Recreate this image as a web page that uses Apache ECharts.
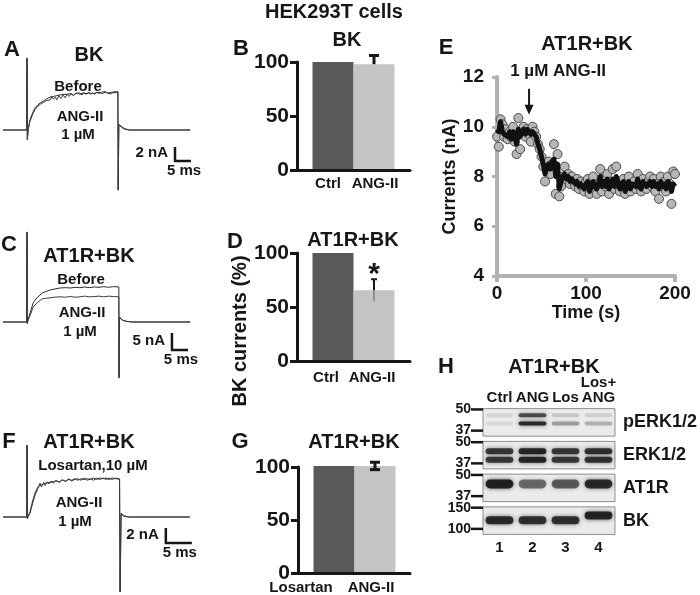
<!DOCTYPE html>
<html><head><meta charset="utf-8">
<script src="https://cdn.jsdelivr.net/npm/echarts@6/dist/echarts.min.js"></script>
<style>html,body{margin:0;padding:0;background:#fff}#c{width:700px;height:595px}</style>
</head><body><div id="c"></div>
<script>
// ================= DATA =================
// Panel A traces (t in ms, current in nA)
const traceABefore = [[-7.5,0],[-0.1,0],[0,10.3],[0.1,-1.4],[0.4,0.2],[0.9,1.4],[1.9,2.6],[2.6,3.2],[3.4,3.6],[4.2,3.9],[5.0,4.1],[6.0,4.4],[7.2,4.7],[8.3,4.8],[9.3,4.9],[10.3,5.0],[11.3,5.1],[12.5,5.1],[13.5,5.2],[14.5,5.0],[15.5,5.3],[16.5,5.1],[17.5,5.3],[18.5,5.2],[19.5,5.3],[20.5,5.2],[21.5,5.3],[22.5,5.4],[23.5,5.2],[24.5,5.4],[25.5,5.3],[26.5,5.4],[27.5,5.3],[28.4,5.5],[28.5,-8.6],[28.7,0.8],[29.5,0.5],[30.5,0.2],[32,0],[51,0]];
const traceAAng = [[-7.5,0],[-0.1,0],[0,10.2],[0.1,-1.3],[0.4,0.1],[0.9,1.2],[1.9,2.4],[2.6,3.0],[3.4,3.4],[4.2,3.7],[5.0,3.9],[6.0,4.2],[7.2,4.3],[7.8,4.8],[8.3,4.4],[8.9,4.7],[9.3,4.3],[10.0,4.9],[10.6,4.5],[11.3,5.0],[11.9,4.6],[12.5,5.1],[13.2,4.8],[13.8,5.2],[14.5,4.9],[15.2,5.2],[15.8,5.0],[16.5,5.3],[17.2,5.0],[17.8,5.3],[18.5,5.1],[19.2,5.4],[19.8,5.1],[20.5,5.3],[21.2,5.1],[21.8,5.4],[22.5,5.2],[23.2,5.4],[23.8,5.2],[24.5,5.5],[25.2,5.2],[25.8,5.4],[26.5,5.2],[27.2,5.5],[27.8,5.3],[28.4,5.4],[28.5,-8.5],[28.7,0.7],[29.5,0.4],[30.5,0.1],[32,0],[51,0]];
// Panel C traces
const traceCBefore = [[-7.5,0],[-0.1,0],[0,26.5],[0.1,-0.5],[0.3,0.6],[1.25,3.5],[1.9,5.6],[3.1,7.1],[4.7,8.5],[6.0,9.0],[7.2,9.4],[8.7,9.7],[10.3,10.0],[12,10.1],[13.5,10.0],[15,10.2],[16.5,10.1],[18,10.3],[19.5,10.1],[21,10.3],[22.5,10.2],[24,10.4],[25.5,10.2],[27,10.4],[28.7,10.3],[28.75,-16.5],[28.9,1.5],[29.8,0.6],[31,0.2],[33,0],[51,0]];
const traceCAng = [[-7.5,0],[-0.1,0],[0,26.3],[0.1,-0.5],[0.3,0.4],[1.25,2.6],[1.9,4.4],[3.1,5.6],[4.7,6.8],[6.0,7.0],[7.2,7.1],[8.7,7.3],[10.3,7.4],[12,7.3],[13.5,7.5],[15,7.3],[16.5,7.4],[18,7.6],[19.5,7.4],[21,7.5],[22.5,7.6],[24,7.4],[25.5,7.6],[27,7.5],[28.7,7.4],[28.75,-16.2],[28.9,1.3],[29.8,0.5],[31,0.2],[33,0],[51,0]];
// Panel F traces
const traceFLos = [[-4.6,0],[-0.05,0],[0,9.6],[0.06,-0.2],[0.25,0.2],[0.58,0.7],[1.15,2.3],[1.6,3.3],[2.1,4.0],[2.8,4.3],[3.5,4.5],[4.2,4.6],[5.0,4.7],[5.6,4.8],[6.2,4.7],[6.8,4.9],[7.4,4.8],[8.0,5.0],[8.6,4.9],[9.2,5.1],[9.8,4.9],[10.4,5.1],[11.0,5.0],[11.6,5.1],[12.2,5.0],[12.8,5.2],[13.4,5.0],[14.0,5.2],[14.6,5.1],[15.2,5.2],[15.8,5.0],[16.4,5.2],[17.0,5.1],[17.8,5.1],[17.9,-10],[18.1,0.5],[18.6,0.2],[19.5,0],[31.3,0]];
const traceFAng = [[-4.6,0],[-0.05,0],[0,9.5],[0.06,-0.2],[0.25,0.1],[0.58,0.5],[1.15,2.0],[1.6,3.0],[2.1,3.8],[2.5,4.5],[2.8,4.0],[3.2,4.6],[3.5,4.2],[3.9,4.7],[4.2,4.4],[4.6,4.8],[5.0,4.5],[5.6,4.9],[6.2,4.6],[6.8,5.0],[7.4,4.7],[8.0,5.1],[8.6,4.8],[9.2,5.0],[9.8,5.1],[10.4,4.9],[11.0,5.2],[11.6,4.9],[12.2,5.1],[12.8,4.9],[13.4,5.2],[14.0,5.0],[14.6,5.2],[15.2,5.0],[15.8,5.2],[16.4,5.0],[17.0,5.2],[17.8,5.0],[17.9,-9.9],[18.1,0.4],[18.6,0.1],[19.5,0],[31.3,0]];
// scale bars [ms, nA]
const scaleA = [5, 2];
const scaleC = [5, 5];
const scaleF = [5, 2];

// Bar panels (% of control)
const catsB = ['Ctrl', 'ANG-II'];
const valuesB = [100, 98];
const errorsB = [0, 8];
const catsD = ['Ctrl', 'ANG-II'];
const valuesD = [100, 65.5];
const errorsD = [0, 10.2];
const sigD = ['', '*'];
const catsG = ['Losartan', 'ANG-II'];
const valuesG = [101, 101];
const errorsG = [0, 3.5];

// Panel E time course
const timeE = [0,2,4,6,8,10,12,14,16,18,20,22,24,26,28,30,32,34,36,38,40,42,44,46,48,50,52,54,56,58,60,62,64,66,68,70,72,74,76,78,80,82,84,86,88,90,92,94,96,98,100,102,104,106,108,110,112,114,116,118,120,122,124,126,128,130,132,134,136,138,140,142,144,146,148,150,152,154,156,158,160,162,164,166,168,170,172,174,176,178,180,182,184,186,188,190,192,194,196,198,200];
const currentE = [9.6,9.2,10.3,10.1,9.6,9.9,9.5,9.8,9.6,10.0,9.4,8.9,10.35,9.1,9.8,10.0,9.6,9.9,9.7,9.4,10.0,9.8,9.6,9.3,9.1,8.8,8.4,7.8,8.3,8.6,8.1,8.5,9.3,7.3,8.9,7.2,7.6,8.0,8.4,7.9,8.1,7.7,8.0,7.8,7.6,7.9,7.5,7.8,7.6,7.4,7.8,7.9,7.3,7.6,8.0,7.5,7.3,7.7,8.3,7.4,7.9,7.6,8.1,7.3,7.7,8.3,7.5,8.4,7.8,7.4,7.6,7.9,7.3,7.6,8.0,7.4,7.7,7.8,7.5,8.1,7.6,7.4,7.9,7.7,7.5,7.8,8.0,7.6,7.9,7.4,7.7,7.1,8.0,7.6,7.8,7.4,8.0,7.7,6.9,8.2,8.1];
const meanE = [9.9,9.8,10.2,9.8,9.7,9.7,9.6,9.8,9.5,9.8,9.6,9.3,9.9,9.6,9.8,9.9,9.7,9.9,9.8,9.7,9.8,9.7,9.6,9.3,9.1,8.8,8.5,8.1,8.4,8.5,8.3,8.6,8.7,8.0,8.5,7.5,7.8,8.0,8.1,7.9,8.0,7.8,7.9,7.9,7.7,7.8,7.6,7.7,7.6,7.5,7.7,7.8,7.4,7.6,7.8,7.6,7.5,7.7,8.0,7.6,7.8,7.6,7.9,7.5,7.7,7.9,7.6,8.0,7.8,7.5,7.6,7.8,7.4,7.6,7.8,7.5,7.7,7.7,7.6,7.9,7.6,7.5,7.8,7.7,7.6,7.7,7.8,7.6,7.8,7.6,7.7,7.5,7.8,7.6,7.7,7.5,7.8,7.7,7.4,7.7,7.6];
const arrowE = [36, 10.48];          // time of ANG-II application, current at arrow tip
const arrowLabelE = '1 µM ANG-II';

// Panel H western blot
const blotRows = ['pERK1/2', 'ERK1/2', 'AT1R', 'BK'];
const laneLabels = ['Ctrl', 'ANG', 'Los', 'Los+\nANG'];
const laneNumbers = ['1', '2', '3', '4'];
const markerMW = [[50, 37], [50, 37], [50, 37], [150, 100]];
// [lane, row, kDa, intensity]
const blotBands = [
  [1,0,46,0.10],[2,0,46,0.70],[3,0,46,0.16],[4,0,46,0.12],
  [1,0,41,0.08],[2,0,41,0.88],[3,0,41,0.34],[4,0,41,0.26],
  [1,1,44,0.80],[2,1,44,0.90],[3,1,44,0.80],[4,1,44,0.84],
  [1,1,39,0.80],[2,1,39,0.92],[3,1,39,0.80],[4,1,39,0.84],
  [1,2,44,0.95],[2,2,44,0.55],[3,2,44,0.62],[4,2,44,0.88],
  [1,3,118,0.88],[2,3,118,0.84],[3,3,118,0.84],[4,3,129,0.92]
];

// ================= STYLE / LAYOUT =================
const FF = "'Liberation Sans', Arial, Helvetica, sans-serif";
const INK = '#161616';
const DARK = '#58595b', LIGHT = '#c3c4c6';
const font = (s) => `bold ${s}px ${FF}`;
const ts = (s) => ({fontSize: s, fontWeight: 'bold', fontFamily: FF, color: INK});

const chart = echarts.init(document.getElementById('c'), null, {renderer: 'canvas'});

const grids = [
  {left: 1.4, top: 53, width: 192, height: 140},      // 0 A
  {left: 1.4, top: 226.8, width: 192, height: 156.4}, // 1 C
  {left: 1, top: 442, width: 192.4, height: 153},     // 2 F
  {left: 297, top: 62, width: 113, height: 108},      // 3 B
  {left: 297, top: 253, width: 113, height: 108},     // 4 D
  {left: 298, top: 467, width: 112, height: 110},     // 5 G
  {left: 497, top: 77, width: 178, height: 199},      // 6 E
  {left: 483, top: 406, width: 134, height: 131}      // 7 H
];
const traceRanges = [
  {x: [-8, 52], y: [-9, 11]},
  {x: [-8, 52], y: [-18, 28]},
  {x: [-5, 32], y: [-10.4, 10]}
];
const scaleAnchors = [[46.25, -4.43], [45.3, -8.2], [26.7, -3.47]];
const barPx = 41, firstCenter = 36;
const labelShift = [[-5, 1], [-7, -2], [-33, -4]];
const labelMargin = [6, 9, 7];
const BOX_FRAC = 0.84, MK_F0 = 0.03, MK_F1 = 0.8;
const bandThick = [4, 6, 9, 8];

// ---------- axes ----------
const xAxis = [], yAxis = [];
traceRanges.forEach((r, i) => {
  xAxis.push({type: 'value', gridIndex: i, min: r.x[0], max: r.x[1], show: false});
  yAxis.push({type: 'value', gridIndex: i, min: r.y[0], max: r.y[1], show: false});
});
const barSets = [
  {cats: catsB, vals: valuesB, errs: errorsB, sig: null, lower: 'none'},
  {cats: catsD, vals: valuesD, errs: errorsD, sig: sigD, lower: 'stem'},
  {cats: catsG, vals: valuesG, errs: errorsG, sig: null, lower: 'cap'}
];
barSets.forEach((b, k) => {
  const g = 3 + k;
  const mn = 1 - firstCenter / barPx;
  const rich = {};
  b.cats.forEach((c, i) => {
    const s = labelShift[k][i];
    rich['s' + i] = Object.assign(ts(15), {padding: s < 0 ? [0, -2 * s, 0, 0] : [0, 0, 0, 2 * s]});
  });
  xAxis.push({
    type: 'value', gridIndex: g, min: mn, max: mn + grids[g].width / barPx, z: 5,
    splitLine: {show: false},
    axisLine: {show: true, onZero: false, lineStyle: {color: INK, width: 3}},
    axisTick: {show: false},
    axisLabel: Object.assign(ts(15), {
      customValues: [1, 2], margin: labelMargin[k],
      formatter: (v) => { const i = Math.round(v) - 1; return `{s${i}|${b.cats[i]}}`; },
      rich: rich
    })
  });
  const ya = {
    type: 'value', gridIndex: g, min: 0, max: 100, interval: 50, z: 5,
    splitLine: {show: false},
    axisLine: {show: true, lineStyle: {color: INK, width: 3}},
    axisTick: {show: true, length: 7, lineStyle: {color: INK, width: 3}},
    axisLabel: Object.assign(ts(21), {margin: 8})
  };
  if (k === 1) {
    Object.assign(ya, {
      name: 'BK currents (%)', nameLocation: 'middle', nameRotate: 90, nameGap: 43,
      nameTextStyle: Object.assign(ts(20), {padding: [0, 48, 0, 0]})
    });
  }
  yAxis.push(ya);
});
// E axes
const gAx = '#b2b2b2';
xAxis.push({
  type: 'value', gridIndex: 6, min: 0, max: 200, interval: 100, z: 1,
  splitLine: {show: false},
  axisLine: {lineStyle: {color: gAx, width: 4}},
  axisTick: {show: true, length: 6, lineStyle: {color: gAx, width: 4}},
  axisLabel: Object.assign(ts(19), {margin: 8}),
  name: 'Time (s)', nameLocation: 'middle', nameGap: 26,
  nameTextStyle: ts(18)
});
yAxis.push({
  type: 'value', gridIndex: 6, min: 4, max: 12, interval: 2, z: 1,
  splitLine: {show: false},
  axisLine: {show: true, lineStyle: {color: gAx, width: 4}},
  axisTick: {show: true, length: 5, lineStyle: {color: gAx, width: 3}},
  axisLabel: Object.assign(ts(19), {margin: 13}),
  name: 'Currents (nA)', nameLocation: 'middle', nameRotate: 90, nameGap: 38,
  nameTextStyle: ts(18)
});
// H axes
xAxis.push({
  type: 'value', gridIndex: 7, min: 0.5, max: 4.5, position: 'top',
  splitLine: {show: false}, axisLine: {show: false}, axisTick: {show: false},
  axisLabel: Object.assign(ts(15), {customValues: [1, 2, 3, 4], margin: 1, lineHeight: 15,
    formatter: (v) => laneLabels[Math.round(v) - 1]})
});
xAxis.push({
  type: 'value', gridIndex: 7, min: 0.5, max: 4.5, position: 'bottom',
  splitLine: {show: false}, axisLine: {show: false}, axisTick: {show: false},
  axisLabel: Object.assign(ts(15), {customValues: [1, 2, 3, 4], margin: 3,
    formatter: (v) => laneNumbers[Math.round(v) - 1]})
});
yAxis.push({
  type: 'category', gridIndex: 7, data: blotRows, inverse: true, position: 'right',
  axisLine: {show: false}, axisTick: {show: false}, splitLine: {show: false},
  axisLabel: Object.assign(ts(18), {margin: 8})
});

// ---------- series ----------
const series = [];
const traceSets = [[traceABefore, traceAAng], [traceCBefore, traceCAng], [traceFLos, traceFAng]];
traceSets.forEach((pair, i) => {
  pair.forEach((d, j) => series.push({
    type: 'line', xAxisIndex: i, yAxisIndex: i, data: d, showSymbol: false, silent: true,
    lineStyle: {color: j === 0 ? '#2b2b2b' : '#3c3c3c', width: 1}, z: 2
  }));
});
[scaleA, scaleC, scaleF].forEach((sb, i) => {
  const anchor = scaleAnchors[i];
  series.push({
    type: 'custom', xAxisIndex: i, yAxisIndex: i, data: [sb], silent: true, z: 3,
    renderItem: (params, api) => {
      const ms = api.value(0), na = api.value(1);
      const c = api.coord(anchor);
      const t = api.coord([anchor[0], anchor[1] + na]);
      const r = api.coord([anchor[0] + ms, anchor[1]]);
      return {type: 'group', children: [
        {type: 'polyline', shape: {points: [t, c, r]}, style: {stroke: INK, lineWidth: 2.5, fill: 'none'}},
        {type: 'text', x: c[0] - 7, y: (t[1] + c[1]) / 2 - 1,
          style: {text: na + ' nA', align: 'right', verticalAlign: 'middle', font: font(15), fill: INK}},
        {type: 'text', x: (c[0] + r[0]) / 2 + 1, y: c[1] + 2,
          style: {text: ms + ' ms', align: 'center', verticalAlign: 'top', font: font(15), fill: INK}}
      ]};
    }
  });
});
barSets.forEach((b, k) => {
  const g = 3 + k;
  series.push({
    type: 'bar', xAxisIndex: g, yAxisIndex: g, barWidth: barPx, clip: false, silent: true, z: 2,
    data: b.vals.map((v, i) => ({value: [i + 1, v], itemStyle: {color: i === 0 ? DARK : LIGHT}}))
  });
  series.push({
    type: 'custom', xAxisIndex: g, yAxisIndex: g, silent: true, z: 4, clip: false,
    data: b.vals.map((v, i) => [i + 1, v, b.errs[i]]),
    renderItem: (params, api) => {
      const x = api.value(0), v = api.value(1), e = api.value(2);
      const i = params.dataIndex;
      const kids = [];
      if (e > 0) {
        const top = api.coord([x, v + e]), mid = api.coord([x, v]), bot = api.coord([x, v - e]);
        const w = b.lower === 'stem' ? 2 : 3;
        const cw = b.lower === 'stem' ? 3 : 5;
        kids.push({type: 'line', shape: {x1: mid[0], y1: mid[1], x2: top[0], y2: top[1]}, style: {stroke: INK, lineWidth: w}});
        kids.push({type: 'line', shape: {x1: top[0] - cw, y1: top[1], x2: top[0] + cw, y2: top[1]}, style: {stroke: INK, lineWidth: w}});
        if (b.lower === 'stem') {
          kids.push({type: 'line', shape: {x1: mid[0], y1: mid[1], x2: bot[0], y2: bot[1]}, style: {stroke: '#7d7d7d', lineWidth: 1.5}});
        } else if (b.lower === 'cap') {
          kids.push({type: 'line', shape: {x1: mid[0], y1: mid[1], x2: bot[0], y2: bot[1]}, style: {stroke: INK, lineWidth: w}});
          kids.push({type: 'line', shape: {x1: bot[0] - cw, y1: bot[1], x2: bot[0] + cw, y2: bot[1]}, style: {stroke: INK, lineWidth: w}});
        }
        if (b.sig && b.sig[i]) {
          kids.push({type: 'text', x: top[0], y: top[1] - 5,
            style: {text: b.sig[i], align: 'center', verticalAlign: 'middle', font: font(30), fill: INK}});
        }
      }
      return {type: 'group', children: kids};
    }
  });
});
// E
series.push({
  type: 'scatter', xAxisIndex: 6, yAxisIndex: 6, silent: true, z: 2,
  data: timeE.map((t, i) => [t, currentE[i]]), symbolSize: 9,
  itemStyle: {color: '#b7b7b7', borderColor: '#4a4a4a', borderWidth: 1, opacity: 1}
});
series.push({
  type: 'line', xAxisIndex: 6, yAxisIndex: 6, silent: true, z: 3, showSymbol: false,
  data: timeE.map((t, i) => [t, meanE[i]]),
  lineStyle: {color: '#111', width: 5, join: 'round'}
});
series.push({
  type: 'custom', xAxisIndex: 6, yAxisIndex: 6, silent: true, z: 4, clip: false,
  data: [arrowE],
  renderItem: (params, api) => {
    const tip = api.coord([api.value(0), api.value(1)]);
    const topY = tip[1] - 26;
    return {type: 'group', children: [
      {type: 'line', shape: {x1: tip[0], y1: topY, x2: tip[0], y2: tip[1] - 6}, style: {stroke: INK, lineWidth: 2}},
      {type: 'polygon', shape: {points: [[tip[0] - 4.5, tip[1] - 10], [tip[0] + 4.5, tip[1] - 10], [tip[0], tip[1]]]}, style: {fill: INK}},
      {type: 'text', x: tip[0] + 29, y: topY - 17,
        style: {text: arrowLabelE, align: 'center', verticalAlign: 'middle', font: font(17), fill: INK}}
    ]};
  }
});
// H blot
const boxOf = (api, row) => {
  const l = api.coord([0.5, row]), r = api.coord([4.5, row]);
  const h = api.size([1, 1])[1] * BOX_FRAC;
  return {x: l[0], y: l[1] - h / 2, w: r[0] - l[0], h: h};
};
series.push({
  type: 'custom', xAxisIndex: 7, yAxisIndex: 7, silent: true, z: 1,
  data: blotRows.map((r, i) => [2.5, i]),
  renderItem: (params, api) => {
    const b = boxOf(api, api.value(1));
    return {type: 'rect', shape: {x: b.x, y: b.y, width: b.w, height: b.h},
      style: {fill: '#ebebeb', stroke: '#8e8e8e', lineWidth: 1}};
  }
});
series.push({
  type: 'custom', xAxisIndex: 7, yAxisIndex: 7, silent: true, z: 2,
  data: blotBands,
  renderItem: (params, api) => {
    const lane = api.value(0), row = api.value(1), mw = api.value(2), a = api.value(3);
    const b = boxOf(api, row);
    const c = api.coord([lane, row]);
    const [mT, mB] = markerMW[row];
    const f = MK_F0 + (MK_F1 - MK_F0) * (Math.log(mT) - Math.log(mw)) / (Math.log(mT) - Math.log(mB));
    const y = b.y + f * b.h, h = bandThick[row], w = api.size([1, 1])[0] * 0.84;
    return {type: 'rect', shape: {x: c[0] - w / 2, y: y - h / 2, width: w, height: h, r: h / 2},
      style: {fill: `rgba(26,26,26,${a})`, shadowBlur: 4, shadowColor: `rgba(26,26,26,${a * 0.8})`}};
  }
});
series.push({
  type: 'custom', xAxisIndex: 7, yAxisIndex: 7, silent: true, z: 2,
  data: blotRows.map((r, i) => [0.5, i]),
  renderItem: (params, api) => {
    const row = api.value(1);
    const b = boxOf(api, row);
    const kids = [];
    markerMW[row].forEach((mw, k) => {
      const y = b.y + (k === 0 ? MK_F0 : MK_F1) * b.h;
      kids.push({type: 'line', shape: {x1: b.x - 12, y1: y, x2: b.x, y2: y}, style: {stroke: INK, lineWidth: 2.5}});
      kids.push({type: 'text', x: b.x - 12, y: y,
        style: {text: String(mw), align: 'right', verticalAlign: 'middle', font: font(14), fill: INK}});
    });
    return {type: 'group', children: kids};
  }
});

// ---------- free text ----------
const T = (text, x, y, size) => ({type: 'text', x: x, y: y, silent: true, z: 10,
  style: {text: text, align: 'center', verticalAlign: 'middle', font: font(size), fill: INK}});
const graphic = [
  T('A', 12, 50, 22), T('BK', 89, 55, 20),
  T('Before', 78, 87, 15), T('ANG-II', 80, 117, 15), T('1 µM', 78, 135, 15),
  T('HEK293T cells', 334, 12, 20), T('B', 241, 49, 22), T('BK', 347, 40, 20),
  T('C', 9, 245, 22), T('AT1R+BK', 89, 256, 20),
  T('Before', 81, 280, 15), T('ANG-II', 82, 313, 15), T('1 µM', 80, 332, 15),
  T('D', 235, 242, 22), T('AT1R+BK', 353, 240, 20),
  T('E', 446, 48, 22), T('AT1R+BK', 587, 44, 20),
  T('F', 9, 442, 22), T('AT1R+BK', 89, 442, 20),
  T('Losartan,10 µM', 93, 466, 15), T('ANG-II', 79, 503, 15), T('1 µM', 75, 522, 15),
  T('G', 240, 442, 22), T('AT1R+BK', 354, 442, 20),
  T('H', 446, 367, 22), T('AT1R+BK', 554, 367, 20)
];

chart.setOption({
  animation: false,
  backgroundColor: '#fff',
  textStyle: {fontFamily: FF},
  grid: grids,
  xAxis: xAxis,
  yAxis: yAxis,
  series: series,
  graphic: graphic
});
</script>
</body></html>
